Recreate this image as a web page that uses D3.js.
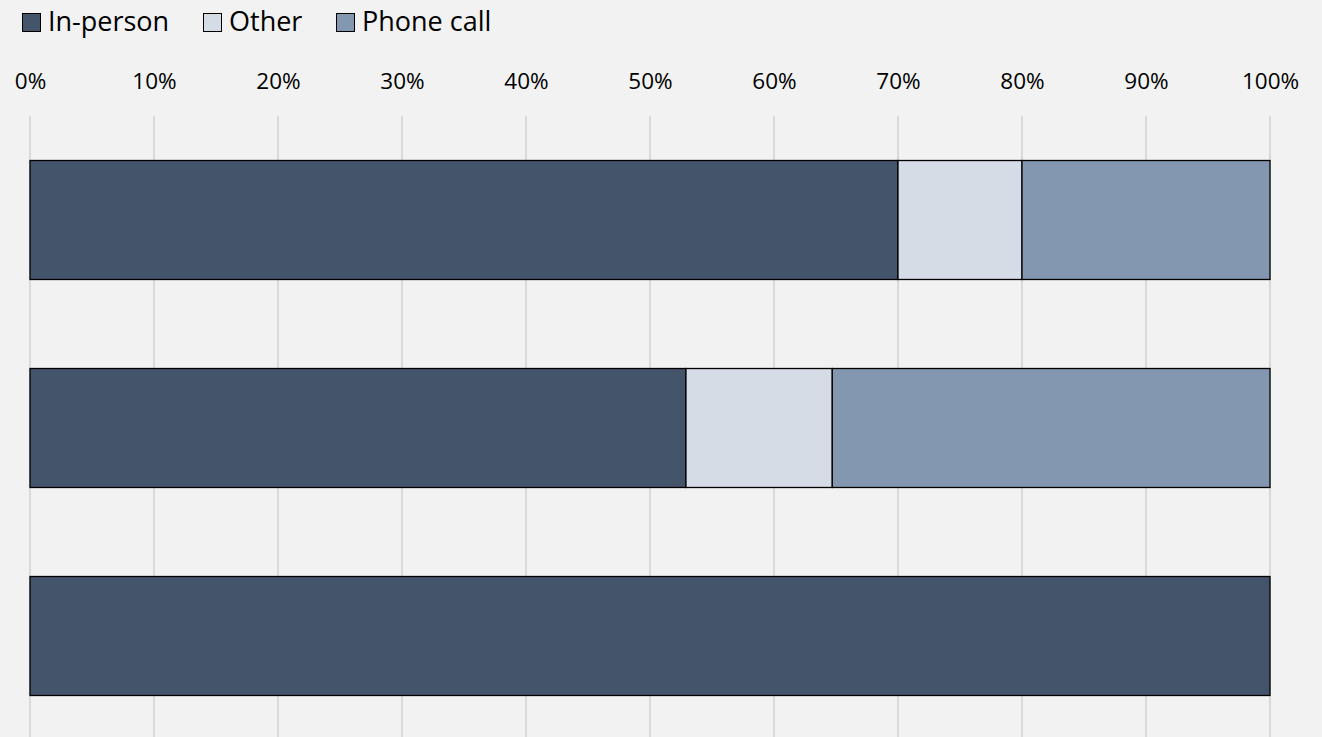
<!DOCTYPE html>
<html><head><meta charset="utf-8">
<script src="https://cdn.jsdelivr.net/npm/d3@7"></script>
<style>html,body{margin:0;padding:0;background:#F2F2F2;}svg{display:block;}</style>
</head><body>
<svg id="chart" width="1322" height="737"></svg>
<script>
const categories = ["Group A", "Group B", "Group C"];
const seriesNames = ["In-person", "Other", "Phone call"];
const inPerson = [70, 52.9, 100];
const other = [10, 11.8, 0];
const phoneCall = [20, 35.3, 0];
const tickValues = [0, 10, 20, 30, 40, 50, 60, 70, 80, 90, 100];
const colors = ["#44546A", "#D6DCE5", "#8497B0"];

const svg = d3.select("#chart");
const font = "'Open Sans', 'Noto Sans', sans-serif";
svg.append("rect").attr("width", 1322).attr("height", 737).attr("fill", "#F2F2F2");

const x = d3.scaleLinear().domain([0, 100]).range([30, 1270]);
const y = d3.scaleBand().domain(categories).range([116, 740]).paddingInner(0.428).paddingOuter(0.214);

// gridlines
svg.append("g").selectAll("line").data(tickValues).join("line")
  .attr("x1", d => x(d)).attr("x2", d => x(d))
  .attr("y1", 116).attr("y2", 737)
  .attr("stroke", "#D9D9D9").attr("stroke-width", 2);

// tick labels via axis
const axis = d3.axisTop(x).tickValues(tickValues).tickFormat(d => d + "%").tickSize(0).tickPadding(0);
const ag = svg.append("g").attr("transform", "translate(0,89)").call(axis);
ag.select(".domain").remove();
ag.selectAll("text").attr("font-family", font).attr("font-size", 22.5).attr("fill", "#000").attr("dy", 0);

const stackData = categories.map((c, i) => ({cat: c, "In-person": inPerson[i], "Other": other[i], "Phone call": phoneCall[i]}));
const stack = d3.stack().keys(seriesNames)(stackData);

svg.append("g").selectAll("g").data(stack).join("g")
  .attr("fill", (d, i) => colors[i])
  .selectAll("rect").data(d => d.filter(p => p[1] - p[0] > 0)).join("rect")
  .attr("x", d => x(d[0]))
  .attr("width", d => x(d[1]) - x(d[0]))
  .attr("y", d => y(d.data.cat))
  .attr("height", y.bandwidth())
  .attr("stroke", "#000").attr("stroke-width", 1.3);

// legend
const legend = svg.append("g");
const legendX = [22, 203, 336];
seriesNames.forEach((s, i) => {
  const g = legend.append("g").attr("transform", `translate(${legendX[i]},0)`);
  g.append("rect").attr("x", 0.5).attr("y", 13.5).attr("width", 18).attr("height", 18)
    .attr("fill", colors[i]).attr("stroke", "#000").attr("stroke-width", 1);
  g.append("text").attr("x", 26).attr("y", 31).attr("font-family", font).attr("font-size", 27)
    .attr("fill", "#000").text(s);
});
</script>
</body></html>
